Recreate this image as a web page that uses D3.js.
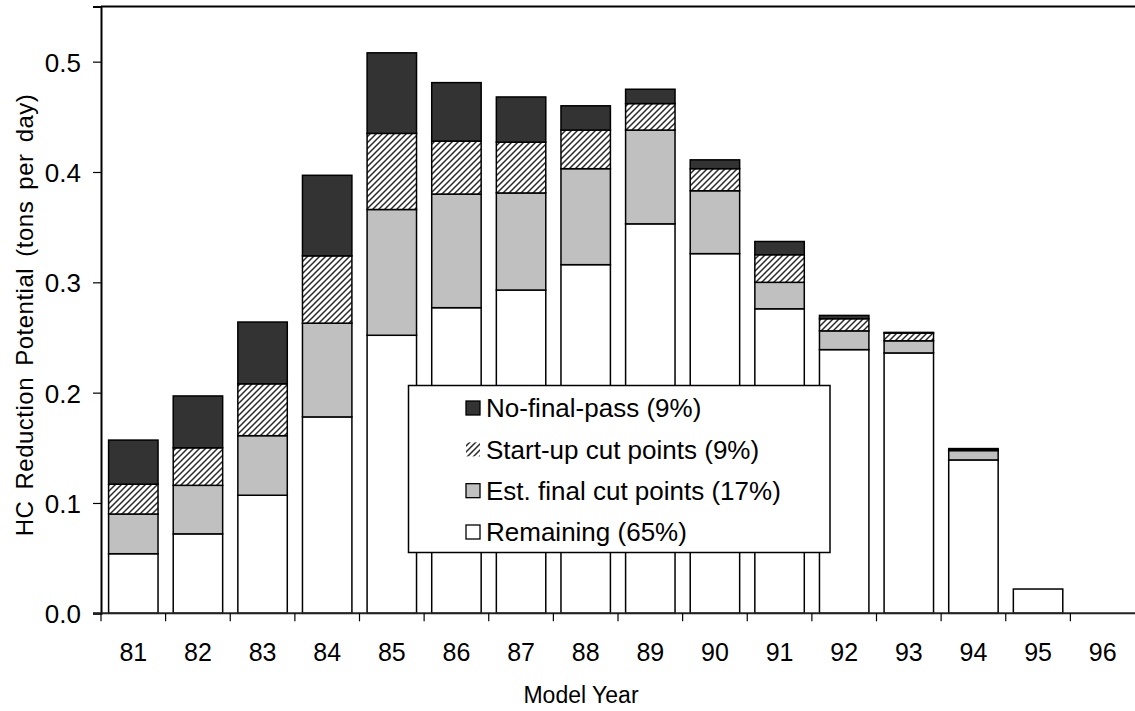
<!DOCTYPE html>
<html>
<head>
<meta charset="utf-8">
<script src="https://cdn.jsdelivr.net/npm/d3@7"></script>
<style>
  html, body { margin: 0; padding: 0; background: #fff; }
  svg { display: block; }
  text { font-family: "Liberation Sans", Arial, sans-serif; fill: #000; }
</style>
</head>
<body>
<svg id="chart" width="1135" height="711"></svg>
<script>
// ---- data ----
const years = ["81","82","83","84","85","86","87","88","89","90","91","92","93","94","95","96"];
const remaining = [0.054, 0.072, 0.107, 0.178, 0.252, 0.277, 0.293, 0.316, 0.353, 0.326, 0.276, 0.239, 0.236, 0.139, 0.022, 0];
const estFinal  = [0.036, 0.044, 0.054, 0.085, 0.114, 0.103, 0.088, 0.087, 0.085, 0.057, 0.024, 0.017, 0.011, 0.0085, 0, 0];
const startUp   = [0.027, 0.034, 0.047, 0.061, 0.069, 0.048, 0.046, 0.035, 0.024, 0.020, 0.025, 0.011, 0.007, 0.0006, 0, 0];
const noFinal   = [0.040, 0.047, 0.056, 0.073, 0.073, 0.053, 0.041, 0.022, 0.013, 0.008, 0.012, 0.003, 0.0006, 0.0012, 0, 0];
const seriesKeys = ["remaining", "estFinal", "startUp", "noFinal"];
const legendLabels = ["No-final-pass (9%)", "Start-up cut points (9%)", "Est. final cut points (17%)", "Remaining (65%)"];
const legendKeys = ["noFinal", "startUp", "estFinal", "remaining"];
const yTicks = [0, 0.1, 0.2, 0.3, 0.4, 0.5];
const xTitle = "Model Year";
const yTitle = "HC Reduction Potential (tons per day)";

const table = years.map((yr, i) => ({
  year: yr, remaining: remaining[i], estFinal: estFinal[i], startUp: startUp[i], noFinal: noFinal[i]
}));

const svg = d3.select("#chart");
const mLeft = 101, mRight = 1135, mTop = 6.5, mBottom = 613.3;

const defs = svg.append("defs");
const pat = defs.append("pattern").attr("id", "hatch")
  .attr("patternUnits", "userSpaceOnUse").attr("width", 6).attr("height", 6);
pat.append("rect").attr("width", 6).attr("height", 6).attr("fill", "#fff");
pat.append("path").attr("d", "M-1,1 L1,-1 M0,6 L6,0 M5,7 L7,5")
  .attr("stroke", "#2a2a2a").attr("stroke-width", 1.5);

const fills = { remaining: "#ffffff", estFinal: "#c0c0c0", startUp: "url(#hatch)", noFinal: "#333333" };

const x = d3.scaleBand().domain(years).range([mLeft, mRight])
  .paddingInner(0.235).paddingOuter(0.1175);
const y = d3.scaleLinear().domain([0, 0.55]).range([mBottom, mTop]);

const stack = d3.stack().keys(seriesKeys);
const layers = stack(table);

// bars
const g = svg.append("g");
layers.forEach(layer => {
  g.selectAll(null)
    .data(layer.filter(d => d[1] - d[0] > 0))
    .enter().append("rect")
    .attr("x", d => x(d.data.year))
    .attr("width", x.bandwidth())
    .attr("y", d => y(d[1]))
    .attr("height", d => y(d[0]) - y(d[1]))
    .attr("fill", fills[layer.key])
    .attr("stroke", "#000")
    .attr("stroke-width", 1.5);
});

// frame: top line
svg.append("line").attr("x1", mLeft).attr("x2", mRight).attr("y1", mTop).attr("y2", mTop)
  .attr("stroke", "#000").attr("stroke-width", 2);

// y axis
const yAxis = d3.axisLeft(y).tickValues(yTicks).tickFormat(d3.format(".1f"))
  .tickSize(8).tickPadding(12);
const ya = svg.append("g").attr("transform", `translate(${mLeft},0)`).call(yAxis);
ya.select(".domain").attr("stroke", "#000").attr("stroke-width", 2);
ya.selectAll(".tick line").attr("stroke", "#000").attr("stroke-width", 1.2);
ya.selectAll(".tick text").attr("font-size", 26).attr("dy", "0.36em")
  .style("font-family", "'Liberation Sans', Arial, sans-serif").attr("fill", "#000");

// x axis baseline
svg.append("line").attr("x1", mLeft - 8).attr("x2", mRight).attr("y1", mBottom).attr("y2", mBottom)
  .attr("stroke", "#222").attr("stroke-width", 2);

// x boundary ticks
const step = x.step();
const bounds = years.map(yv => x(yv) - x.paddingInner() * step / 2);
svg.append("g").selectAll("line").data(bounds).enter().append("line")
  .attr("x1", d => d).attr("x2", d => d)
  .attr("y1", mBottom).attr("y2", mBottom + 8)
  .attr("stroke", "#000").attr("stroke-width", 1.2);

// x labels
svg.append("g").selectAll("text").data(years).enter().append("text")
  .attr("x", d => x(d) + x.bandwidth() / 2)
  .attr("y", 661)
  .attr("text-anchor", "middle")
  .attr("font-size", 25)
  .text(d => d);

// titles
svg.append("text").attr("x", 581).attr("y", 703).attr("text-anchor", "middle")
  .attr("font-size", 23).text(xTitle);
svg.append("text").attr("transform", "translate(33,315) rotate(-90)")
  .attr("text-anchor", "middle").attr("font-size", 24)
  .attr("letter-spacing", 0.5).attr("word-spacing", 4).text(yTitle);

// legend
const lg = svg.append("g");
lg.append("rect").attr("x", 408.5).attr("y", 385.5).attr("width", 421.5).attr("height", 167)
  .attr("fill", "#fff").attr("stroke", "#000").attr("stroke-width", 1.5);
const rowY = d3.scalePoint().domain(legendKeys).range([408, 532]);
legendKeys.forEach((k, i) => {
  const cy = rowY(k);
  lg.append("rect").attr("x", 466).attr("y", cy - 7).attr("width", 14).attr("height", 14)
    .attr("fill", fills[k])
    .attr("stroke", k === "startUp" ? "none" : "#000").attr("stroke-width", 1.3);
  lg.append("text").attr("x", 486).attr("y", cy).attr("dy", "0.36em")
    .attr("font-size", 26).text(legendLabels[i]);
});
</script>
</body>
</html>
